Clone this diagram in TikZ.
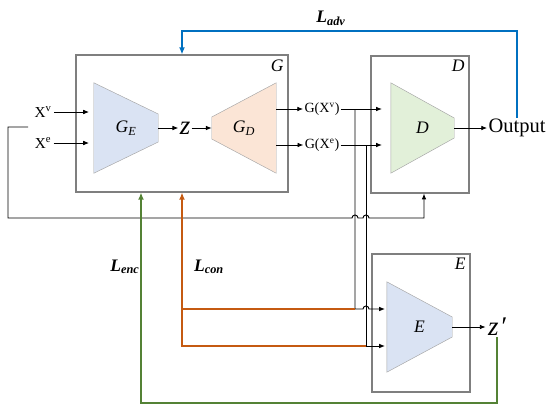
\documentclass[tikz,border=0pt]{standalone}
\usepackage{fontspec}
\setmainfont{Liberation Serif}
\usetikzlibrary{arrows.meta,positioning,calc,backgrounds}
\definecolor{boxgray}{HTML}{7F7F7F}
\definecolor{trapgray}{HTML}{A6A6A6}
\definecolor{encblue}{HTML}{DAE3F3}
\definecolor{decpeach}{HTML}{FBE5D6}
\definecolor{disgreen}{HTML}{E2F0D9}
\definecolor{advblue}{HTML}{0070C0}
\definecolor{conorange}{HTML}{C55A11}
\definecolor{encgreen}{HTML}{548235}
\tikzset{
  netbox/.style={rectangle,draw=boxgray,line width=0.9pt,minimum width=2.94cm,minimum height=4.11cm},
  boxlabel/.style={anchor=north east,inner sep=4pt,font=\fontsize{15}{18}\selectfont\itshape},
  trapnode/.style={rectangle,inner sep=0pt,minimum width=1.92cm,minimum height=2.7cm,font=\fontsize{15}{18}\selectfont\itshape},
  trapline/.style={draw=trapgray,line width=0.4pt},
  signal/.style={font=\fontsize{13}{15}\selectfont,inner sep=2pt},
  gsignal/.style={font=\fontsize{12}{14}\selectfont,inner sep=1pt},
  latent/.style={font=\fontsize{23}{25}\selectfont\itshape,inner sep=1pt},
  losslabel/.style={font=\fontsize{15}{17}\selectfont\bfseries\itshape},
  sig/.style={-{Latex[length=5pt,width=4pt]},line width=0.8pt,draw=black},
  advarrow/.style={-{Latex[length=6pt,width=5pt]},line width=1.5pt,draw=advblue},
  conarrow/.style={-{Latex[length=6pt,width=5pt]},line width=1.5pt,draw=conorange},
  conline/.style={line width=1.5pt,draw=conorange},
  encarrow/.style={-{Latex[length=6pt,width=5pt]},line width=1.5pt,draw=encgreen}
}

\begin{document}
\begin{tikzpicture}[x=0.03cm,y=-0.03cm]
  \useasboundingbox (0,0) rectangle (550,413);
  % boxes
  \node[netbox,minimum width=6.36cm] (gbox) at (182,123.5) {};
  \node[netbox] (dbox) at (420,124.5) {};
  \node[netbox,minimum height=4.14cm] (ebox) at (421,323) {};
  \node[boxlabel] at (gbox.north east) {G};
  \node[boxlabel] at (dbox.north east) {D};
  \node[boxlabel] at (ebox.north east) {E};
  % networks
  \node[trapnode] (ge) at (126,128) {G\textsubscript{E}};
  \node[trapnode] (gd) at (244,128) {G\textsubscript{D}};
  \node[trapnode,minimum width=1.89cm] (dt) at (422.5,128) {D};
  \node[trapnode,minimum width=1.95cm] (et) at (419.5,327) {E};
  \begin{scope}[on background layer]
    \filldraw[trapline,fill=encblue] (ge.north west) -- ($(ge.east)+(0,-14)$) -- ($(ge.east)+(0,14)$) -- (ge.south west) -- cycle;
    \filldraw[trapline,fill=decpeach] (gd.north east) -- (gd.south east) -- ($(gd.west)+(0,11)$) -- ($(gd.west)+(0,-11)$) -- cycle;
    \filldraw[trapline,fill=disgreen] (dt.north west) -- ($(dt.east)+(0,-10)$) -- ($(dt.east)+(0,10)$) -- (dt.south west) -- cycle;
    \filldraw[trapline,fill=encblue] (et.north west) -- ($(et.east)+(0,-10)$) -- ($(et.east)+(0,10)$) -- (et.south west) -- cycle;
  \end{scope}
  % signals
  \node[signal] (xv) at (43,112) {X\textsuperscript{v}};
  \node[signal] (xe) at (43,143) {X\textsuperscript{e}};
  \node[latent] (z) at (185,128) {z};
  \node[gsignal] (gxv) at (322,109) {G(X\textsuperscript{v})};
  \node[gsignal] (gxe) at (322,145) {G(X\textsuperscript{e})};
  \node[font=\fontsize{17.5}{20}\selectfont,inner sep=1pt] (output) at (517,128) {Output};
  \node[latent] (zp) at (497,327) {z\kern1pt\char"2032};
  \coordinate (fb) at (28,127);
  \coordinate (fbin) at (424,218);
  \coordinate (tapv) at (355,109);
  \coordinate (tape) at (366,145);
  \coordinate (ein1) at (385,309);
  \coordinate (ein2) at (385,346);
  \coordinate (botline) at (0,403);
  \coordinate (encin) at ($(gbox.south)+(-41,0)$);
  \draw[sig,shorten >=4pt] (xv) -- (xv -| ge.west);
  \draw[sig,shorten >=4pt] (xe) -- (xe -| ge.west);
  \draw[sig] (ge.east) -- (z);
  \draw[sig] (z) -- (z -| gd.west);
  \draw[sig] (gxv -| gd.east) -- (gxv);
  \draw[sig] (gxe -| gd.east) -- (gxe);
  \draw[sig,shorten >=7.5pt] (gxv) -- (gxv -| dt.west);
  \draw[sig,shorten >=7.5pt] (gxe) -- (gxe -| dt.west);
  \draw[sig] (dt.east) -- (output);
  \draw[sig,shorten >=1pt] (et.east) -- (zp);
  % shared inputs to E
  \draw[sig] (tapv) -- (tapv |- ein1) -- ($(tape |- ein1)+(-3,0)$) arc[start angle=180,end angle=360,radius=3] -- (ein1);
  \draw[sig] (tape) -- (tape |- ein2) -- (ein2);
  % input to D
  \draw[sig] (fb) -- (8,127) -- (8,218) -- ($(tapv |- fbin)+(-3,0)$) arc[start angle=180,end angle=360,radius=3]
    -- ($(tape |- fbin)+(-3,0)$) arc[start angle=180,end angle=360,radius=3] -- (fbin) -- (fbin |- dbox.south);
  % losses
  \draw[advarrow] (output.north) -- ++(0,-87) -| (gbox.north);
  \draw[conline] (tapv |- ein1) -- (gbox.south |- ein1);
  \draw[conarrow] (tape |- ein2) -| (gbox.south);
  \draw[encarrow] (zp.south) -- (zp.south |- botline) -| (encin);
  \node[losslabel] (ladv) at (331,18) {L\textsubscript{adv}};
  \node[losslabel] (lenc) at (125,267) {L\textsubscript{enc}};
  \node[losslabel] (lcon) at (209,267) {L\textsubscript{con}};
\end{tikzpicture}
\end{document}
